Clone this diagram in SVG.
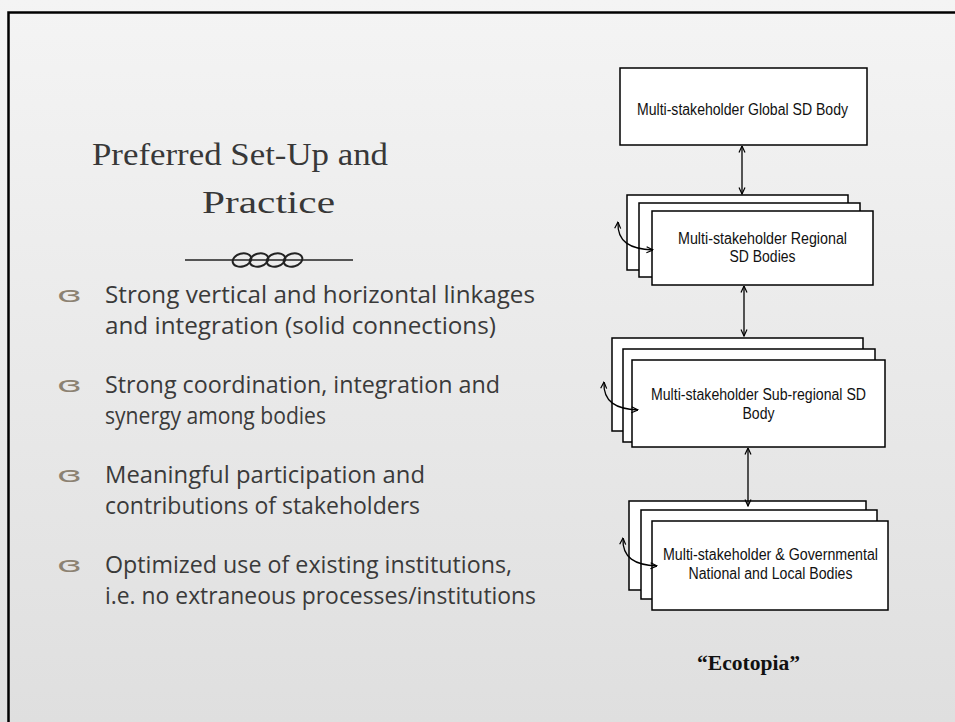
<svg xmlns="http://www.w3.org/2000/svg" width="955" height="722" viewBox="0 0 955 722">
<defs>
<linearGradient id="bg" x1="0" y1="0" x2="0" y2="1">
<stop offset="0" stop-color="#f4f4f4"/>
<stop offset="1" stop-color="#dfdfdf"/>
</linearGradient>
<marker id="ah" viewBox="0 0 8 8" refX="7.5" refY="4" markerWidth="8" markerHeight="8" markerUnits="userSpaceOnUse" orient="auto-start-reverse">
<path d="M1,1 L7.5,4 L1,7" fill="none" stroke="#000" stroke-width="1.2"/>
</marker>
</defs>
<style>
.box{fill:#fff;stroke:#000;stroke-width:1.5}
.lbl{font-family:"Liberation Sans Narrow","Liberation Sans",Arial,sans-serif;font-size:16px;fill:#111;text-anchor:middle}
.con{fill:none;stroke:#000;stroke-width:1.3;marker-start:url(#ah);marker-end:url(#ah)}
.title{font-family:"Liberation Serif","Times New Roman",serif;font-size:31px;fill:#383838}
.body{font-family:"Open Sans","Liberation Sans",sans-serif;font-size:23px;fill:#3a3a3a}
.bul{font-family:"DejaVu Sans",sans-serif;font-size:22px;fill:#8c8272}
</style>
<rect x="0" y="0" width="955" height="722" fill="url(#bg)"/>
<path d="M8.5,722 V12.5 H955" fill="none" stroke="#000" stroke-width="2.5"/>

<g id="title">
<text class="title" x="92" y="165" textLength="296" lengthAdjust="spacingAndGlyphs">Preferred Set-Up and</text>
<text class="title" x="202" y="213" textLength="133" lengthAdjust="spacingAndGlyphs">Practice</text>
<g fill="none" stroke="#222">
<line x1="185" y1="260" x2="353" y2="260" stroke-width="1.5"/>
<ellipse cx="242" cy="260" rx="9.5" ry="6.5" stroke-width="2" transform="rotate(-15 242 260)"/>
<ellipse cx="259" cy="260" rx="9.5" ry="6.5" stroke-width="2" transform="rotate(-15 259 260)"/>
<ellipse cx="276" cy="260" rx="9.5" ry="6.5" stroke-width="2" transform="rotate(-15 276 260)"/>
<ellipse cx="293" cy="260" rx="9.5" ry="6.5" stroke-width="2" transform="rotate(-15 293 260)"/>
</g>
</g>

<g id="bullets">
<text class="bul" x="57" y="302" textLength="25" lengthAdjust="spacingAndGlyphs">ɞ</text>
<text class="body" x="105" y="303" textLength="430" lengthAdjust="spacingAndGlyphs">Strong vertical and horizontal linkages</text>
<text class="body" x="105" y="334" textLength="391" lengthAdjust="spacingAndGlyphs">and integration (solid connections)</text>
<text class="bul" x="57" y="392" textLength="25" lengthAdjust="spacingAndGlyphs">ɞ</text>
<text class="body" x="105" y="393" textLength="395" lengthAdjust="spacingAndGlyphs">Strong coordination, integration and</text>
<text class="body" x="105" y="424" textLength="221" lengthAdjust="spacingAndGlyphs">synergy among bodies</text>
<text class="bul" x="57" y="482" textLength="25" lengthAdjust="spacingAndGlyphs">ɞ</text>
<text class="body" x="105" y="483" textLength="320" lengthAdjust="spacingAndGlyphs">Meaningful participation and</text>
<text class="body" x="105" y="514" textLength="315" lengthAdjust="spacingAndGlyphs">contributions of stakeholders</text>
<text class="bul" x="57" y="572" textLength="25" lengthAdjust="spacingAndGlyphs">ɞ</text>
<text class="body" x="105" y="573" textLength="407" lengthAdjust="spacingAndGlyphs">Optimized use of existing institutions,</text>
<text class="body" x="105" y="604" textLength="431" lengthAdjust="spacingAndGlyphs">i.e. no extraneous processes/institutions</text>
</g>

<g id="global">
<rect class="box" x="620" y="68" width="247" height="77"/>
<text class="lbl" x="742.5" y="115" textLength="211" lengthAdjust="spacingAndGlyphs">Multi-stakeholder Global SD Body</text>
</g>

<g id="regional">
<rect class="box" x="627" y="195" width="221" height="75"/>
<rect class="box" x="639" y="203" width="221" height="74"/>
<rect class="box" x="652" y="211" width="221" height="74"/>
<text class="lbl" x="762.5" y="244" textLength="169" lengthAdjust="spacingAndGlyphs">Multi-stakeholder Regional</text>
<text class="lbl" x="762.5" y="262" textLength="66" lengthAdjust="spacingAndGlyphs">SD Bodies</text>
</g>

<g id="subregional">
<rect class="box" x="612" y="338" width="251" height="93"/>
<rect class="box" x="623" y="349" width="252" height="93"/>
<rect class="box" x="632" y="360" width="253" height="87"/>
<text class="lbl" x="758.5" y="400" textLength="215" lengthAdjust="spacingAndGlyphs">Multi-stakeholder Sub-regional SD</text>
<text class="lbl" x="758.5" y="419" textLength="32" lengthAdjust="spacingAndGlyphs">Body</text>
</g>

<g id="national">
<rect class="box" x="629" y="501" width="237" height="89"/>
<rect class="box" x="641" y="510" width="236" height="89"/>
<rect class="box" x="652" y="521" width="236" height="89"/>
<text class="lbl" x="770.5" y="560" textLength="215" lengthAdjust="spacingAndGlyphs">Multi-stakeholder &amp; Governmental</text>
<text class="lbl" x="770.5" y="579" textLength="164" lengthAdjust="spacingAndGlyphs">National and Local Bodies</text>
</g>

<g id="connectors">
<line class="con" x1="742" y1="146" x2="742" y2="194"/>
<line class="con" x1="744" y1="286" x2="744" y2="336"/>
<line class="con" x1="748" y1="448" x2="748" y2="506"/>
<path class="con" d="M618,222 C617,242 630,249 653,250"/>
<path class="con" d="M604,382 C603,402 616,409 638,410"/>
<path class="con" d="M623,538 C622,558 635,565 657,566"/>
</g>

<g id="ecotopia">
<text x="697" y="670" font-family="Liberation Serif,serif" font-weight="bold" font-size="20" fill="#111" textLength="103" lengthAdjust="spacingAndGlyphs">“Ecotopia”</text>
</g>
</svg>
